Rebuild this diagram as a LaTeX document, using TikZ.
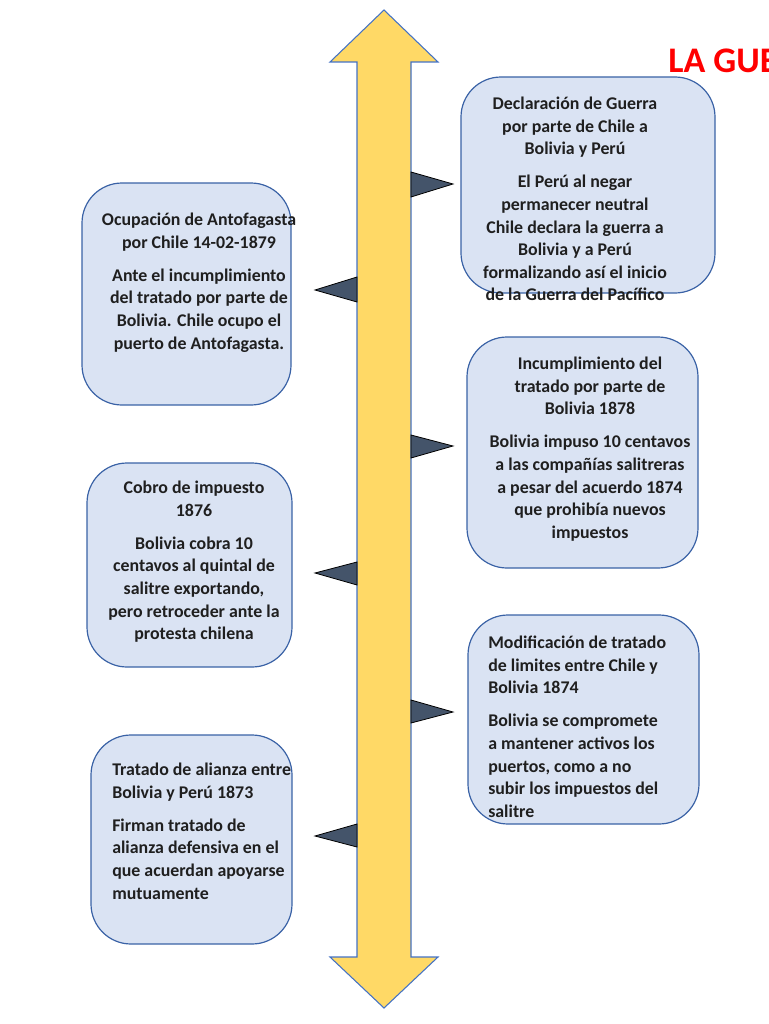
\documentclass[tikz,border=0pt]{standalone}
\usepackage{fontspec}
\setmainfont{Carlito}
\usetikzlibrary{fit}

\definecolor{amarillo}{HTML}{FFD966}
\definecolor{bordeflecha}{HTML}{4472C4}
\definecolor{bordecaja}{HTML}{3A62A6}
\definecolor{celeste}{HTML}{DAE3F3}
\definecolor{pizarra}{HTML}{44546A}

\tikzset{
  evbox/.style={draw=bordecaja, fill=celeste, line width=0.9pt, rounded corners=30pt, inner sep=0pt},
  evtext/.style={font=\fontsize{13.4}{16.9}\selectfont\bfseries, text=black!88, inner sep=0pt, align=center},
  marca/.style={fill=pizarra, draw=black, line width=0.6pt},
}

\begin{document}
\begin{tikzpicture}[x=0.75pt, y=-0.75pt]
\useasboundingbox (0,0) rectangle (768,1024);

% Timeline arrow
\draw[fill=amarillo, draw=bordeflecha, line width=0.8pt]
  (384,10) -- (438,62) -- (411,62) -- (411,957) -- (438,957) -- (384,1008)
  -- (330,957) -- (357,957) -- (357,62) -- (330,62) -- cycle;

% Markers on the timeline
\draw[marca] (411,172) -- (453,184) -- (411,197) -- cycle;
\draw[marca] (357,277) -- (315,290) -- (357,302) -- cycle;
\draw[marca] (411,435) -- (453,446) -- (411,458) -- cycle;
\draw[marca] (357,562) -- (315,573) -- (357,585) -- cycle;
\draw[marca] (411,700) -- (453,712) -- (411,723) -- cycle;
\draw[marca] (357,824) -- (315,836) -- (357,847) -- cycle;

% Title
\node[anchor=base west, text=red, font=\fontsize{27}{30}\selectfont\bfseries, inner sep=0pt]
  (titulo) at (668,73) {LA GUE};

% Right side
\node[evbox, fit={(461,77) (715,293)}] (declaracion) {};
\node[evtext, anchor=north] (declaraciontxt) at (575,97)
  {Declaración de Guerra\\ por parte de Chile a\\ Bolivia y Perú\\[7.9pt]
   El Perú al negar\\ permanecer neutral\\ Chile declara la guerra a\\
   Bolivia y a Perú\\ formalizando así el inicio\\ de la Guerra del Pacífico};

\node[evbox, fit={(467,337) (698,568)}] (incumplimiento) {};
\node[evtext, anchor=north] (incumplimientotxt) at (590,357)
  {Incumplimiento del\\ tratado por parte de\\ Bolivia 1878\\[7.9pt]
   Bolivia impuso 10 centavos\\ a las compañías salitreras\\
   a pesar del acuerdo 1874\\ que prohibía nuevos\\ impuestos};

\node[evbox, fit={(468,615) (699,824)}] (modificacion) {};
\node[evtext, align=left, anchor=north west] (modificaciontxt) at (488,636)
  {Modificación de tratado\\ de limites entre Chile y\\ Bolivia 1874\\[7.9pt]
   Bolivia se compromete\\ a mantener activos los\\ puertos, como a no\\
   subir los impuestos del\\ salitre};

% Left side
\node[evbox, fit={(82,183) (291,405)}] (ocupacion) {};
\node[evtext, anchor=north] (ocupaciontxt) at (199,213)
  {Ocupación de Antofagasta\\ por Chile 14-02-1879\\[7.9pt]
   Ante el incumplimiento\\ del tratado por parte de\\
   Bolivia. Chile ocupo el\\ puerto de Antofagasta.};

\node[evbox, fit={(87,463) (292,667)}] (cobro) {};
\node[evtext, anchor=north] (cobrotxt) at (194,481)
  {Cobro de impuesto\\ 1876\\[7.9pt]
   Bolivia cobra 10\\ centavos al quintal de\\ salitre exportando,\\
   pero retroceder ante la\\ protesta chilena};

\node[evbox, fit={(91,735) (292,944)}] (alianza) {};
\node[evtext, align=left, anchor=north west] (alianzatxt) at (112,763)
  {Tratado de alianza entre\\ Bolivia y Perú 1873\\[7.9pt]
   Firman tratado de\\ alianza defensiva en el\\ que acuerdan apoyarse\\
   mutuamente};
\end{tikzpicture}
\end{document}
